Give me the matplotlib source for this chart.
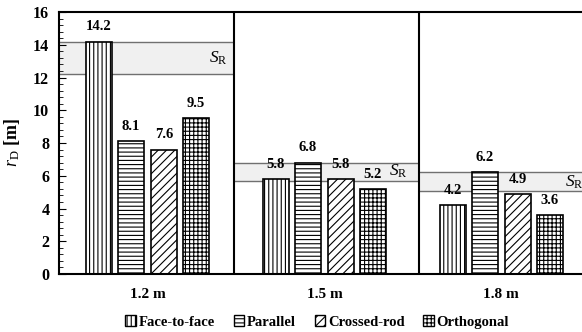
import matplotlib.pyplot as plt
from matplotlib.patches import Patch, Rectangle
import numpy as np

plt.rcParams['font.family'] = ['Liberation Serif', 'DejaVu Serif']
plt.rcParams['mathtext.fontset'] = 'custom'
plt.rcParams['mathtext.rm'] = 'Liberation Serif'
plt.rcParams['mathtext.it'] = 'Liberation Serif:italic'
plt.rcParams['hatch.linewidth'] = 0.8

# data
spacings = ['1.2 m', '1.5 m', '1.8 m']
series = ['Face-to-face', 'Parallel', 'Crossed-rod', 'Orthogonal']
face = [14.2, 5.8, 4.2]
parallel = [8.1, 6.8, 6.2]
crossed = [7.6, 5.8, 4.9]
orthogonal = [9.5, 5.2, 3.6]
sr_low = [12.2, 5.7, 5.1]
sr_high = [14.2, 6.8, 6.2]

values = [face, parallel, crossed, orthogonal]
hatches = ['||||', '----', '////', '++++']
offsets = [-0.274, -0.093, 0.093, 0.274]
width = 0.147

fig = plt.figure(figsize=(5.82, 3.32), dpi=100)
ax = fig.add_axes([0.1014, 0.1747, 0.912, 0.789])
ax.set_xlim(-0.5, 2.5)
ax.set_ylim(0, 16)

# S_R bands, one per group
edges = [-0.5, 0.4915, 1.534, 2.5]
sr_pos = [(0.40, 13.2), (1.42, 6.25), (2.41, 5.6)]
for i in range(3):
    x0, x1 = edges[i], edges[i + 1]
    ax.add_patch(Rectangle((x0, sr_low[i]), x1 - x0, sr_high[i] - sr_low[i],
                           facecolor='#f0f0f0', edgecolor='none', zorder=1))
    ax.hlines([sr_low[i], sr_high[i]], x0, x1, colors='#707070', lw=1.0, zorder=1.5)
    ax.text(sr_pos[i][0], sr_pos[i][1], r'$S_\mathrm{R}$', fontsize=12.5,
            ha='center', va='center', zorder=4)

# group dividers
ax.vlines(edges[1:3], 0, 16, colors='black', lw=1.5, zorder=3)

x = np.arange(len(spacings))
for k in range(4):
    bars = ax.bar(x + offsets[k], values[k], width, facecolor='white',
                  edgecolor='black', hatch=hatches[k], lw=1.2, zorder=2,
                  label=series[k])
    for b, v in zip(bars, values[k]):
        ax.text(b.get_x() + b.get_width() / 2, v + 0.5, f'{v:.1f}',
                ha='center', va='bottom', fontsize=10.5, fontweight='bold', zorder=5)

ax.set_xticks(x)
ax.set_xticklabels(spacings, fontsize=11, fontweight='bold')
ax.tick_params(axis='x', length=0, pad=10)
ax.set_yticks(np.arange(0, 17, 2))
ax.set_yticks(np.arange(0, 16.01, 0.4), minor=True)
ax.tick_params(axis='y', which='both', direction='in', labelsize=11.5, pad=7)
ax.tick_params(axis='y', which='major', length=5)
ax.tick_params(axis='y', which='minor', length=3)
for lab in ax.get_yticklabels():
    lab.set_fontweight('bold')
for s in ax.spines.values():
    s.set_linewidth(1.5)
ax.set_ylabel(r'$r_\mathrm{D}$ [m]', fontsize=13, fontweight='bold', labelpad=8)

handles = [Patch(facecolor='white', edgecolor='black', hatch=h, label=s)
           for h, s in zip(hatches, series)]
fig.legend(handles=handles, loc='center', bbox_to_anchor=(0.545, 0.03),
           ncol=4, frameon=False, handlelength=0.7,
           handleheight=0.7, handletextpad=0.2, columnspacing=1.3,
           prop={'weight': 'bold', 'size': 10.5})

fig.savefig('out.png', dpi=100)
